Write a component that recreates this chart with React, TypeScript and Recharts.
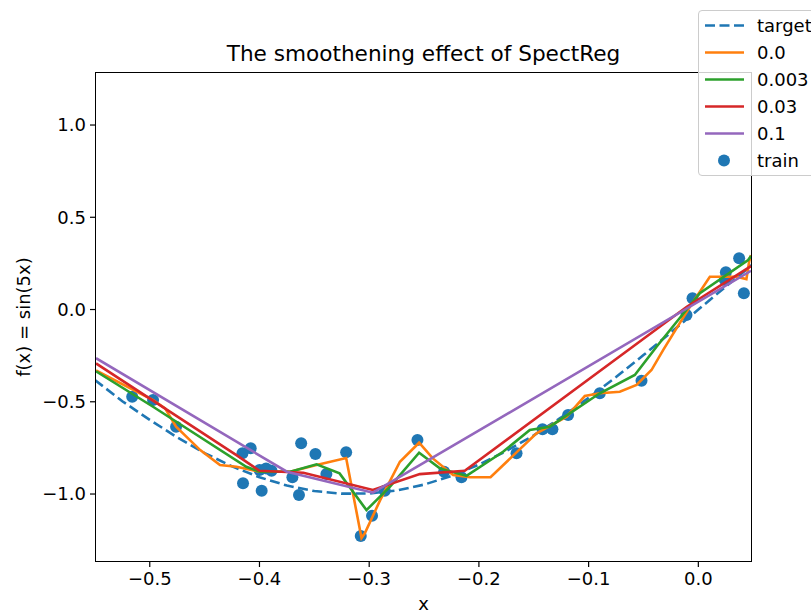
import { ComposedChart, Line, Scatter, XAxis, YAxis } from "recharts";

const FONT = "'DejaVu Sans', sans-serif";

const xTicks = [-0.5, -0.4, -0.3, -0.2, -0.1, 0.0];
const yTicks = [-1.0, -0.5, 0.0, 0.5, 1.0];

// [x, y] pairs
const target: [number, number][] = [
  [-0.55, -0.382], [-0.525, -0.497], [-0.5, -0.598], [-0.475, -0.693], [-0.45, -0.778],
  [-0.425, -0.85], [-0.4, -0.909], [-0.375, -0.954], [-0.35, -0.984], [-0.325, -0.998],
  [-0.3, -0.997], [-0.275, -0.981], [-0.25, -0.949], [-0.225, -0.902], [-0.2, -0.841],
  [-0.175, -0.767], [-0.15, -0.682], [-0.125, -0.585], [-0.1, -0.479], [-0.075, -0.366],
  [-0.05, -0.247], [-0.025, -0.124], [0.0, 0.0], [0.025, 0.124], [0.05, 0.247],
];

const fit00: [number, number][] = [
  [-0.549, -0.33], [-0.497, -0.491], [-0.486, -0.536], [-0.476, -0.635], [-0.454, -0.762],
  [-0.436, -0.843], [-0.421, -0.852], [-0.4, -0.879], [-0.372, -0.879], [-0.348, -0.843],
  [-0.321, -0.805], [-0.307, -1.238], [-0.304, -1.213], [-0.29, -1.033], [-0.272, -0.825],
  [-0.2545, -0.722], [-0.242, -0.807], [-0.2235, -0.897], [-0.208, -0.909], [-0.1894, -0.909],
  [-0.1475, -0.671], [-0.12, -0.581], [-0.1035, -0.469], [-0.0898, -0.454], [-0.0716, -0.446],
  [-0.0563, -0.409], [-0.0427, -0.328], [-0.0321, -0.22], [-0.0199, -0.102], [-0.0077, 0.015],
  [0.0105, 0.178], [0.0348, 0.178], [0.0438, 0.165], [0.0463, 0.259], [0.048, 0.295],
];

const fit0003: [number, number][] = [
  [-0.549, -0.335], [-0.497, -0.527], [-0.412, -0.852], [-0.4, -0.879], [-0.372, -0.879],
  [-0.348, -0.839], [-0.327, -0.888], [-0.3025, -1.087], [-0.281, -0.96], [-0.2545, -0.776],
  [-0.2356, -0.861], [-0.2113, -0.902], [-0.178, -0.771], [-0.1536, -0.653], [-0.1354, -0.635],
  [-0.0898, -0.454], [-0.0579, -0.355], [-0.0381, -0.202], [-0.0184, -0.057], [0.0014, 0.088],
  [0.0454, 0.268], [0.048, 0.29],
];

const fit003: [number, number][] = [
  [-0.549, -0.292], [-0.421, -0.789], [-0.4, -0.874], [-0.36, -0.885], [-0.2967, -0.978],
  [-0.2539, -0.892], [-0.2129, -0.874], [-0.0105, 0.015], [0.048, 0.235],
];

const fit01: [number, number][] = [
  [-0.549, -0.264], [-0.375, -0.879], [-0.2967, -0.993], [0.048, 0.21],
];

const train: [number, number][] = [
  [-0.516, -0.473], [-0.497, -0.491], [-0.476, -0.635], [-0.415, -0.942], [-0.4155, -0.779],
  [-0.408, -0.752], [-0.398, -0.982], [-0.4, -0.87], [-0.394, -0.861], [-0.389, -0.874],
  [-0.37, -0.909], [-0.364, -1.005], [-0.362, -0.725], [-0.349, -0.783], [-0.339, -0.892],
  [-0.321, -0.774], [-0.3077, -1.228], [-0.2974, -1.118], [-0.2858, -0.982], [-0.256, -0.707],
  [-0.2317, -0.879], [-0.2159, -0.909], [-0.1657, -0.779], [-0.142, -0.649], [-0.133, -0.649],
  [-0.1187, -0.572], [-0.0898, -0.454], [-0.0518, -0.386], [-0.0108, -0.03], [-0.0053, 0.061],
  [0.0251, 0.202], [0.0242, 0.16], [0.0372, 0.278], [0.0415, 0.088],
];

const toPoints = (arr: [number, number][]) => arr.map(([x, y]) => ({ x, y }));

const fits = [
  { name: "0.0", color: "#ff7f0e", data: fit00 },
  { name: "0.003", color: "#2ca02c", data: fit0003 },
  { name: "0.03", color: "#d62728", data: fit003 },
  { name: "0.1", color: "#9467bd", data: fit01 },
];

const fmt = (v: number) => (v < 0 ? "\u2212" : "") + Math.abs(v).toFixed(1);

const tickStyle = { fill: "#000", fontSize: 18, fontFamily: FONT };

function LegendBox() {
  const rows = [
    { label: "target", kind: "dash", color: "#1f77b4" },
    ...fits.map((f) => ({ label: f.name, kind: "line", color: f.color })),
    { label: "train", kind: "dot", color: "#1f77b4" },
  ];
  return (
    <div
      style={{
        position: "absolute",
        left: 698,
        top: 10,
        width: 130,
        height: 166,
        boxSizing: "border-box",
        border: "1px solid #cccccc",
        borderRadius: 4,
        background: "rgba(255,255,255,0.8)",
      }}
    >
      {rows.map((r, i) => (
        <div
          key={r.label}
          style={{ position: "absolute", left: 0, top: 0.5 + i * 27, height: 27, width: 130 }}
        >
          <svg width={50} height={27} style={{ position: "absolute", left: 0, top: 0 }}>
            {r.kind === "dot" ? (
              <circle cx={25} cy={13.5} r={6} fill={r.color} />
            ) : (
              <line
                x1={6}
                x2={45}
                y1={13.5}
                y2={13.5}
                stroke={r.color}
                strokeWidth={2.6}
                strokeDasharray={r.kind === "dash" ? "10 4.5" : undefined}
              />
            )}
          </svg>
          <span
            style={{
              position: "absolute",
              left: 58,
              top: 0,
              lineHeight: "27px",
              fontSize: 18,
              fontFamily: FONT,
              color: "#000",
              whiteSpace: "nowrap",
            }}
          >
            {r.label}
          </span>
        </div>
      ))}
    </div>
  );
}

export default function App() {
  return (
    <div
      style={{
        position: "absolute",
        left: 0,
        top: 0,
        width: 811,
        height: 613,
        overflow: "hidden",
        background: "#fff",
        fontFamily: FONT,
      }}
    >
      <ComposedChart width={811} height={613} margin={{ top: 73, right: 60, bottom: 0, left: 0 }}>
        <XAxis
          dataKey="x"
          type="number"
          domain={[-0.549, 0.048]}
          ticks={xTicks}
          allowDataOverflow
          height={52}
          tickSize={6}
          tickMargin={5}
          tickFormatter={fmt}
          tick={tickStyle}
          axisLine={false}
          tickLine={{ stroke: "#000", strokeWidth: 1.2 }}
        />
        <YAxis
          dataKey="y"
          type="number"
          domain={[-1.363, 1.282]}
          ticks={yTicks}
          allowDataOverflow
          width={96}
          tickSize={6}
          tickMargin={4}
          tickFormatter={fmt}
          tick={tickStyle}
          axisLine={false}
          tickLine={{ stroke: "#000", strokeWidth: 1.2 }}
        />
        <Scatter
          name="train"
          data={toPoints(train)}
          dataKey="y"
          fill="#1f77b4"
          zIndex={350}
          isAnimationActive={false}
          shape={(p: any) => <circle cx={p.cx} cy={p.cy} r={6} fill="#1f77b4" />}
        />
        <Line
          name="target"
          data={toPoints(target)}
          dataKey="y"
          type="linear"
          stroke="#1f77b4"
          strokeWidth={2.6}
          strokeDasharray="10 4.5"
          dot={false}
          activeDot={false}
          isAnimationActive={false}
        />
        {fits.map((f) => (
          <Line
            key={f.name}
            name={f.name}
            data={toPoints(f.data)}
            dataKey="y"
            type="linear"
            stroke={f.color}
            strokeWidth={2.6}
            dot={false}
            activeDot={false}
            isAnimationActive={false}
          />
        ))}
      </ComposedChart>
      <div
        style={{
          position: "absolute",
          left: 95,
          top: 72,
          width: 657,
          height: 490,
          boxSizing: "border-box",
          border: "1.3px solid #000",
          pointerEvents: "none",
        }}
      />
      <div
        style={{
          position: "absolute",
          left: 96,
          top: 42,
          width: 655,
          textAlign: "center",
          fontSize: 21.6,
          lineHeight: "24px",
          color: "#000",
        }}
      >
        The smoothening effect of SpectReg
      </div>
      <div
        style={{
          position: "absolute",
          left: 96,
          top: 594,
          width: 655,
          textAlign: "center",
          fontSize: 18,
          lineHeight: "20px",
          color: "#000",
        }}
      >
        x
      </div>
      <div
        style={{
          position: "absolute",
          left: 24,
          top: 317,
          transform: "translate(-50%, -50%) rotate(-90deg)",
          fontSize: 18,
          lineHeight: "20px",
          whiteSpace: "nowrap",
          color: "#000",
        }}
      >
        f(x) = sin(5x)
      </div>
      <LegendBox />
    </div>
  );
}
